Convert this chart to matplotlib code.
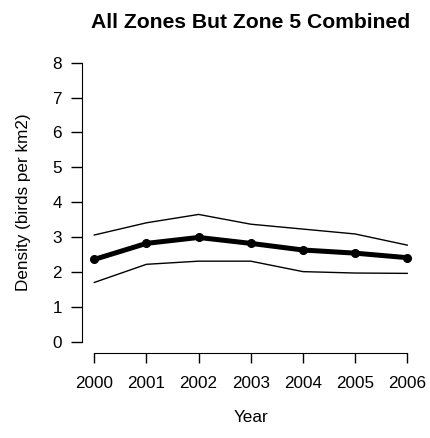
import matplotlib
matplotlib.use("Agg")
import matplotlib.pyplot as plt

plt.rcParams['font.family'] = ['Liberation Sans', 'DejaVu Sans']

years = [2000, 2001, 2002, 2003, 2004, 2005, 2006]
density = [2.36, 2.82, 2.99, 2.82, 2.63, 2.54, 2.41]
upper = [3.06, 3.41, 3.65, 3.37, 3.23, 3.09, 2.77]
lower = [1.70, 2.22, 2.31, 2.31, 2.01, 1.97, 1.96]
yticks = [0, 1, 2, 3, 4, 5, 6, 7, 8]

fig = plt.figure(figsize=(4.30, 4.38), dpi=100)
ax = fig.add_axes([0.1902, 0.1943, 0.786, 0.688])

# confidence bounds
ax.plot(years, upper, color='black', linewidth=1.0)
ax.plot(years, lower, color='black', linewidth=1.0)
# estimated density
ax.plot(years, density, color='black', linewidth=3.6, marker='o', markersize=5.5,
        solid_joinstyle='round')

# padded limits, detached spines
ax.set_xlim(years[0] - 0.24, years[-1] + 0.24)
ax.set_ylim(-0.32, 8.32)
ax.spines['top'].set_visible(False)
ax.spines['right'].set_visible(False)
ax.spines['left'].set_bounds(0, 8)
ax.spines['bottom'].set_bounds(years[0], years[-1])

ax.set_xticks(years)
ax.set_xticklabels([str(y) for y in years])
ax.set_yticks(yticks)
ax.tick_params(axis='x', direction='out', length=7.2, width=1.0, pad=9.4, labelsize=12.3)
ax.tick_params(axis='y', direction='out', length=7.6, width=1.0, pad=6.7, labelsize=12.3)

ax.set_xlabel("Year", fontsize=12.3, labelpad=13.4)
ax.set_ylabel("Density (birds per km2)", fontsize=12.3, labelpad=15)
ax.set_title("All Zones But Zone 5 Combined", fontsize=15.2, fontweight='bold', pad=17)

fig.savefig("out.png", dpi=100)
